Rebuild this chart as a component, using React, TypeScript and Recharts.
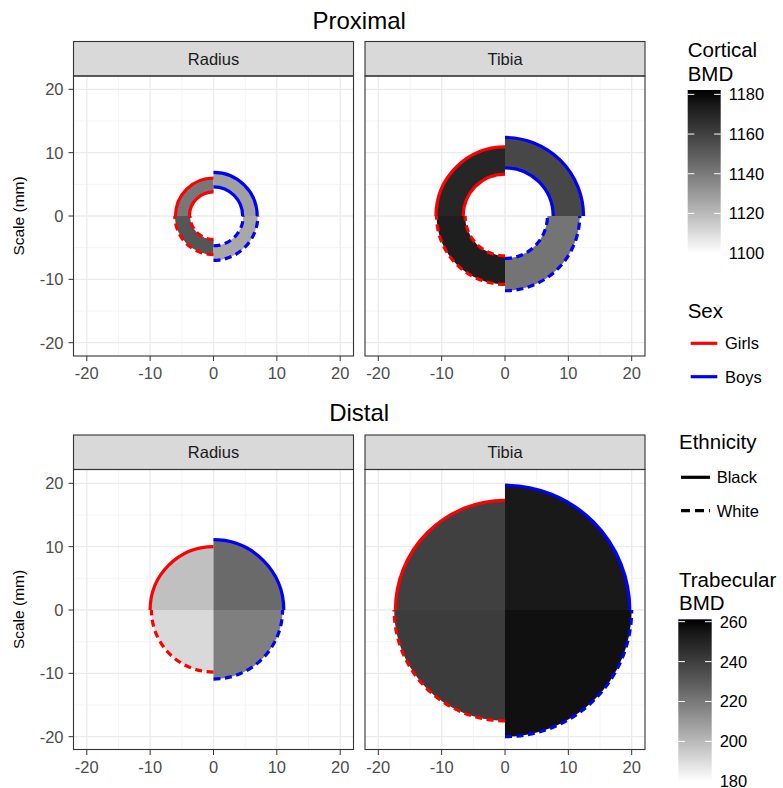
import * as RC from 'recharts';
import { ScatterChart, XAxis, YAxis, CartesianGrid, Customized } from 'recharts';

const FONT = '"Liberation Sans", Arial, Helvetica, sans-serif';

// one quarter of each cross-section per sex x ethnicity
const SEX = ['Girls', 'Boys', 'Girls', 'Boys'];
const ETHNICITY = ['Black', 'Black', 'White', 'White'];

// proximal: cortical ring, outer and inner radius (mm) + cortical BMD
const PROX_RADIUS_OUTER = [6.0, 6.9, 6.1, 7.0];
const PROX_RADIUS_INNER = [3.8, 4.6, 3.7, 4.7];
const PROX_RADIUS_BMD = [1141.0, 1127.9, 1152.4, 1125.4];
const PROX_TIBIA_OUTER = [10.9, 12.4, 10.8, 11.8];
const PROX_TIBIA_INNER = [6.6, 7.6, 6.3, 6.7];
const PROX_TIBIA_BMD = [1169.7, 1157.3, 1172.9, 1141.9];

// distal: whole section as a disc + trabecular BMD
const DIST_RADIUS_OUTER = [10.0, 11.1, 9.8, 10.9];
const DIST_RADIUS_BMD = [198.1, 224.8, 190.8, 218.0];
const DIST_TIBIA_OUTER = [17.3, 19.7, 17.5, 20.0];
const DIST_TIBIA_BMD = [239.2, 254.1, 240.7, 257.5];

const AXIS_DOMAIN = [-22.1, 22.1];
const MAJOR_TICKS = [-20, -10, 0, 10, 20];
const MINOR_TICKS = [-15, -5, 5, 15];

const CORTICAL_LIMITS = [1099.8, 1182.2];
const CORTICAL_TICKS = [1100, 1120, 1140, 1160, 1180];
const TRABECULAR_LIMITS = [180, 261.2];
const TRABECULAR_TICKS = [180, 200, 220, 240, 260];

const SEX_COLORS: Record<string, string> = { Girls: '#ff0000', Boys: '#0000ff' };
const ETHNICITY_DASH: Record<string, string | undefined> = { Black: undefined, White: '7 4.5' };

const PLOT = 280;
const Y_AXIS_W = 73.5;
const X_AXIS_H = 30;

const usePlotAreaSafe: () => any = (RC as any).usePlotArea ?? (() => null);
const useXDomainSafe: () => any = (RC as any).useXAxisDomain ?? (() => null);
const useYDomainSafe: () => any = (RC as any).useYAxisDomain ?? (() => null);

// white -> black in Lab lightness, like scale_fill_gradient
function grayFor(v: number, limits: number[]) {
  const t = Math.min(1, Math.max(0, (v - limits[0]) / (limits[1] - limits[0])));
  const L = 100 * (1 - t);
  const fy = (L + 16) / 116;
  const Y = L > 8 ? fy * fy * fy : L / 903.3;
  const c = Y <= 0.0031308 ? 12.92 * Y : 1.055 * Math.pow(Y, 1 / 2.4) - 0.055;
  const g = Math.round(255 * Math.min(1, Math.max(0, c)));
  return `rgb(${g},${g},${g})`;
}

const okDomain = (d: any) => Array.isArray(d) && d.length === 2 && typeof d[0] === 'number';

function Quarters({ outer, inner, bmd, limits, fallbackX }: any) {
  const plot = usePlotAreaSafe();
  const xd = useXDomainSafe();
  const yd = useYDomainSafe();
  const area = plot && plot.width ? plot : { x: fallbackX, y: 0, width: PLOT, height: PLOT };
  const [x0, x1] = okDomain(xd) ? xd : AXIS_DOMAIN;
  const [y0, y1] = okDomain(yd) ? yd : AXIS_DOMAIN;
  const kx = area.width / (x1 - x0);
  const ky = area.height / (y1 - y0);
  const cx = area.x - x0 * kx;
  const cy = area.y + y1 * ky;
  const pt = (r: number, deg: number) => [
    cx + r * kx * Math.cos((deg * Math.PI) / 180),
    cy - r * ky * Math.sin((deg * Math.PI) / 180),
  ];
  const arc = (r: number, a0: number, a1: number) => {
    const [sx, sy] = pt(r, a0);
    const [ex, ey] = pt(r, a1);
    return `M${sx},${sy} A${r * kx},${r * ky} 0 0 ${a1 > a0 ? 0 : 1} ${ex},${ey}`;
  };
  const sector = (ro: number, ri: number, a0: number, a1: number) => {
    const sw = a1 > a0 ? 0 : 1;
    const [ox0, oy0] = pt(ro, a0);
    const [ox1, oy1] = pt(ro, a1);
    if (!ri) return `M${cx},${cy} L${ox0},${oy0} A${ro * kx},${ro * ky} 0 0 ${sw} ${ox1},${oy1} Z`;
    const [ix0, iy0] = pt(ri, a0);
    const [ix1, iy1] = pt(ri, a1);
    return `M${ox0},${oy0} A${ro * kx},${ro * ky} 0 0 ${sw} ${ox1},${oy1} L${ix1},${iy1} A${ri * kx},${ri * ky} 0 0 ${1 - sw} ${ix0},${iy0} Z`;
  };

  const quarters = SEX.map((sex, i) => {
    const eth = ETHNICITY[i];
    const a0 = eth === 'Black' ? 90 : 270;
    const a1 = sex === 'Girls' ? 180 : eth === 'Black' ? 0 : 360;
    return { sex, eth, a0, a1, ro: outer[i], ri: inner ? inner[i] : 0, fill: grayFor(bmd[i], limits) };
  });

  return (
    <g>
      {quarters.map((q, i) => (
        <path key={`f${i}`} d={sector(q.ro, q.ri, q.a0, q.a1)} fill={q.fill} stroke="none" />
      ))}
      {quarters.map((q, i) => (
        <g key={`l${i}`} fill="none" stroke={SEX_COLORS[q.sex]} strokeWidth={3.2} strokeDasharray={ETHNICITY_DASH[q.eth]}>
          <path d={arc(q.ro, q.a0, q.a1)} />
          {q.ri ? <path d={arc(q.ri, q.a0, q.a1)} /> : null}
        </g>
      ))}
    </g>
  );
}

const tickStyle = { fill: '#4d4d4d', fontSize: 16.5, fontFamily: FONT };

function Panel({ left, top, withY, outer, inner, bmd, limits }: any) {
  const yw = withY ? Y_AXIS_W : 0;
  return (
    <div style={{ position: 'absolute', left: left - yw, top }}>
      <ScatterChart width={PLOT + yw} height={PLOT + X_AXIS_H} margin={{ top: 0, right: 0, bottom: 0, left: 0 }}>
        <CartesianGrid verticalValues={MINOR_TICKS} horizontalValues={MINOR_TICKS} stroke="#f1f1f1" strokeWidth={0.8} />
        <CartesianGrid verticalValues={MAJOR_TICKS} horizontalValues={MAJOR_TICKS} stroke="#ebebeb" strokeWidth={1.3} />
        <XAxis
          type="number" dataKey="x" domain={AXIS_DOMAIN} ticks={MAJOR_TICKS} allowDataOverflow interval={0}
          height={X_AXIS_H} axisLine={false} tickLine={{ stroke: '#333333' }} tickSize={5} tickMargin={6} tick={tickStyle}
        />
        <YAxis
          type="number" dataKey="y" domain={AXIS_DOMAIN} ticks={MAJOR_TICKS} allowDataOverflow interval={0}
          hide={!withY} width={yw || 1} axisLine={false} tickLine={{ stroke: '#333333' }} tickSize={5} tickMargin={5} tick={tickStyle}
        />
        <Customized component={<Quarters outer={outer} inner={inner} bmd={bmd} limits={limits} fallbackX={yw} />} />
      </ScatterChart>
    </div>
  );
}

function ColorBar({ id, x, y, w, h, limits, ticks }: any) {
  const stops = Array.from({ length: 11 }, (_, i) => i / 10);
  const yOf = (v: number) => y + ((limits[1] - v) / (limits[1] - limits[0])) * h;
  return (
    <g>
      <defs>
        <linearGradient id={id} x1="0" y1="1" x2="0" y2="0">
          {stops.map((s) => (
            <stop key={s} offset={s} stopColor={grayFor(limits[0] + s * (limits[1] - limits[0]), limits)} />
          ))}
        </linearGradient>
      </defs>
      <rect x={x} y={y} width={w} height={h} fill={`url(#${id})`} />
      {ticks.map((t: number) => (
        <g key={t}>
          <line x1={x} x2={x + w * 0.2} y1={yOf(t)} y2={yOf(t)} stroke="#ffffff" strokeWidth={1} />
          <line x1={x + w * 0.8} x2={x + w} y1={yOf(t)} y2={yOf(t)} stroke="#ffffff" strokeWidth={1} />
          <text x={x + w + 8} y={yOf(t)} dy="0.36em" fontSize={16.5} fill="#000">{t}</text>
        </g>
      ))}
    </g>
  );
}

const PANEL_X = [73.5, 365];
const ROW_TOP = [76, 469.5];
const SITES = ['Radius', 'Tibia'];

export default function App() {
  return (
    <div style={{ position: 'absolute', left: 0, top: 0, width: 783, height: 788, background: '#ffffff', fontFamily: FONT }}>
      <Panel left={PANEL_X[0]} top={ROW_TOP[0]} withY outer={PROX_RADIUS_OUTER} inner={PROX_RADIUS_INNER} bmd={PROX_RADIUS_BMD} limits={CORTICAL_LIMITS} />
      <Panel left={PANEL_X[1]} top={ROW_TOP[0]} withY={false} outer={PROX_TIBIA_OUTER} inner={PROX_TIBIA_INNER} bmd={PROX_TIBIA_BMD} limits={CORTICAL_LIMITS} />
      <Panel left={PANEL_X[0]} top={ROW_TOP[1]} withY outer={DIST_RADIUS_OUTER} bmd={DIST_RADIUS_BMD} limits={TRABECULAR_LIMITS} />
      <Panel left={PANEL_X[1]} top={ROW_TOP[1]} withY={false} outer={DIST_TIBIA_OUTER} bmd={DIST_TIBIA_BMD} limits={TRABECULAR_LIMITS} />

      <svg width={783} height={788} style={{ position: 'absolute', left: 0, top: 0, pointerEvents: 'none' }} fontFamily={FONT}>
        <text x={359.2} y={28.5} textAnchor="middle" fontSize={24} fill="#000">Proximal</text>
        <text x={359.2} y={421} textAnchor="middle" fontSize={24} fill="#000">Distal</text>

        {ROW_TOP.map((top) => (
          <g key={top}>
            {PANEL_X.map((px, j) => (
              <g key={px}>
                <rect x={px} y={top - 34.5} width={PLOT} height={34.5} fill="#d9d9d9" stroke="#333333" strokeWidth={1.1} />
                <text x={px + PLOT / 2} y={top - 11.5} textAnchor="middle" fontSize={16.5} fill="#1a1a1a">{SITES[j]}</text>
                <rect x={px} y={top} width={PLOT} height={PLOT} fill="none" stroke="#333333" strokeWidth={1.1} />
              </g>
            ))}
            <text transform={`translate(23.5 ${top + PLOT / 2}) rotate(-90)`} textAnchor="middle" fontSize={15.5} fill="#000">Scale (mm)</text>
          </g>
        ))}

        {/* Cortical BMD */}
        <text x={687.7} y={57} fontSize={20.5} fill="#000">Cortical</text>
        <text x={687.7} y={80.5} fontSize={20.5} fill="#000">BMD</text>
        <ColorBar id="cort" x={687.7} y={90} w={33} h={163.5} limits={CORTICAL_LIMITS} ticks={CORTICAL_TICKS} />

        {/* Sex */}
        <text x={687.7} y={317.5} fontSize={20.5} fill="#000">Sex</text>
        {['Girls', 'Boys'].map((s, i) => (
          <g key={s}>
            <line x1={690.7} x2={717.3} y1={343.3 + i * 33.4} y2={343.3 + i * 33.4} stroke={SEX_COLORS[s]} strokeWidth={3.2} />
            <text x={725} y={343.3 + i * 33.4} dy="0.36em" fontSize={16.5} fill="#000">{s}</text>
          </g>
        ))}

        {/* Ethnicity */}
        <text x={679} y={449} fontSize={20.5} fill="#000">Ethnicity</text>
        {['Black', 'White'].map((e, i) => (
          <g key={e}>
            <line x1={681} x2={710} y1={477.3 + i * 33.4} y2={477.3 + i * 33.4} stroke="#000" strokeWidth={3.2} strokeDasharray={e === 'White' ? '9 5' : undefined} />
            <text x={716.7} y={477.3 + i * 33.4} dy="0.36em" fontSize={16.5} fill="#000">{e}</text>
          </g>
        ))}

        {/* Trabecular BMD */}
        <text x={679} y={586.7} fontSize={20.5} fill="#000">Trabecular</text>
        <text x={679} y={610} fontSize={20.5} fill="#000">BMD</text>
        <ColorBar id="trab" x={678.3} y={619.3} w={33.4} h={162} limits={TRABECULAR_LIMITS} ticks={TRABECULAR_TICKS} />
      </svg>
    </div>
  );
}
